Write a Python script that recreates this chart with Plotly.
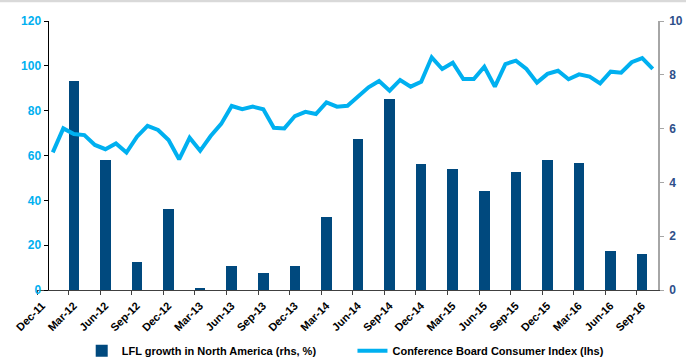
import plotly.graph_objects as go

# ---- data ----
months = ["Jan-12","Feb-12","Mar-12","Apr-12","May-12","Jun-12","Jul-12","Aug-12","Sep-12","Oct-12","Nov-12","Dec-12",
          "Jan-13","Feb-13","Mar-13","Apr-13","May-13","Jun-13","Jul-13","Aug-13","Sep-13","Oct-13","Nov-13","Dec-13",
          "Jan-14","Feb-14","Mar-14","Apr-14","May-14","Jun-14","Jul-14","Aug-14","Sep-14","Oct-14","Nov-14","Dec-14",
          "Jan-15","Feb-15","Mar-15","Apr-15","May-15","Jun-15","Jul-15","Aug-15","Sep-15","Oct-15","Nov-15","Dec-15",
          "Jan-16","Feb-16","Mar-16","Apr-16","May-16","Jun-16","Jul-16","Aug-16","Sep-16","Oct-16"]
consumer_index = [61.4, 72.1, 69.6, 69.1, 64.7, 62.8, 65.4, 61.3, 68.4, 73.2, 71.4, 66.9,
                  58.3, 67.9, 62.1, 68.7, 74.1, 82.1, 80.7, 81.8, 80.6, 72.4, 72.1, 77.6,
                  79.5, 78.5, 83.7, 81.8, 82.2, 86.2, 90.4, 93.2, 88.9, 93.7, 90.7, 92.9,
                  103.8, 98.6, 101.4, 94.1, 94.1, 99.6, 90.7, 100.8, 102.3, 98.6, 92.5, 96.4,
                  97.8, 94.0, 96.2, 95.2, 92.2, 97.4, 96.9, 101.6, 103.4, 98.6]

quarters = ["Mar-12","Jun-12","Sep-12","Dec-12","Mar-13","Jun-13","Sep-13","Dec-13","Mar-14","Jun-14",
            "Sep-14","Dec-14","Mar-15","Jun-15","Sep-15","Dec-15","Mar-16","Jun-16","Sep-16"]
lfl_growth = [7.77, 4.82, 1.03, 3.01, 0.05, 0.89, 0.62, 0.89, 2.70, 5.61,
              7.09, 4.68, 4.49, 3.69, 4.37, 4.84, 4.72, 1.45, 1.33]

tick_labels = ["Dec-11"] + quarters

# ---- positions via category index ----
line_x = list(range(len(months)))
bar_x = [months.index(q) for q in quarters]
tick_vals = [-1.5] + [months.index(q) - 0.5 for q in quarters]

FONT = "Liberation Sans, Arial, sans-serif"
LINE_C = "#00B0F0"
BAR_C = "#00497E"

fig = go.Figure()
fig.add_trace(go.Bar(
    x=bar_x, y=lfl_growth, width=1.0, marker=dict(color=BAR_C, line=dict(width=0)),
    name="LFL growth in North America (rhs, %)", yaxis="y", legend="legend"))
fig.add_trace(go.Scatter(
    x=line_x, y=consumer_index, mode="lines", line=dict(color=LINE_C, width=4),
    name="Conference Board Consumer Index (lhs)", yaxis="y2", legend="legend2"))

n_slots = len(months) + 1  # range from -1.5 to last+0.5
fig.update_layout(
    width=686, height=358,
    margin=dict(l=37, r=28, t=21, b=68, autoexpand=False),
    paper_bgcolor="white", plot_bgcolor="white",
    font=dict(family=FONT, color="black"),
    bargap=0,
    xaxis=dict(
        range=[-1.5, len(months) - 0.5], tickmode="array", tickvals=tick_vals, ticktext=tick_labels,
        tickangle=-45, ticks="outside", ticklen=4, tickcolor="#404040", automargin=False,
        ticklabelshift=5,
        showline=True, linecolor="#404040", linewidth=1, showgrid=False, zeroline=False,
        tickfont=dict(family=FONT, size=11, color="black", weight="bold")),
    yaxis=dict(
        range=[0, 10], side="right", anchor="x", tickvals=[0, 2, 4, 6, 8, 10], automargin=False,
        ticks="outside", ticklen=4, tickcolor="#A6A6A6", ticklabelstandoff=3,
        showline=True, linecolor="#A6A6A6", linewidth=1.5, showgrid=False, zeroline=False,
        tickfont=dict(family=FONT, size=12, color="#2E4F8A", weight="bold")),
    yaxis2=dict(
        range=[0, 120], overlaying="y", side="left", anchor="free", position=1.0 / n_slots,
        tickvals=[0, 20, 40, 60, 80, 100, 120], automargin=False,
        ticks="outside", ticklen=4, tickcolor="black",
        showline=True, linecolor="black", linewidth=1, showgrid=False, zeroline=False,
        tickfont=dict(family=FONT, size=12, color=LINE_C, weight="bold")),
    legend=dict(orientation="h", x=0.072, xanchor="left", y=-0.2257, yanchor="middle",
                font=dict(family=FONT, size=11, color="black", weight="bold"), bgcolor="rgba(0,0,0,0)"),
    legend2=dict(orientation="h", x=0.508, xanchor="left", y=-0.2257, yanchor="middle",
                 font=dict(family=FONT, size=11, color="black", weight="bold"), bgcolor="rgba(0,0,0,0)"),
    shapes=[dict(type="line", xref="paper", yref="paper", x0=-0.2, x1=1.2, y0=1.0743, y1=1.0743,
                 line=dict(color="#D9D9D9", width=2.5))],
    showlegend=True,
)

fig.write_html("out.html")
